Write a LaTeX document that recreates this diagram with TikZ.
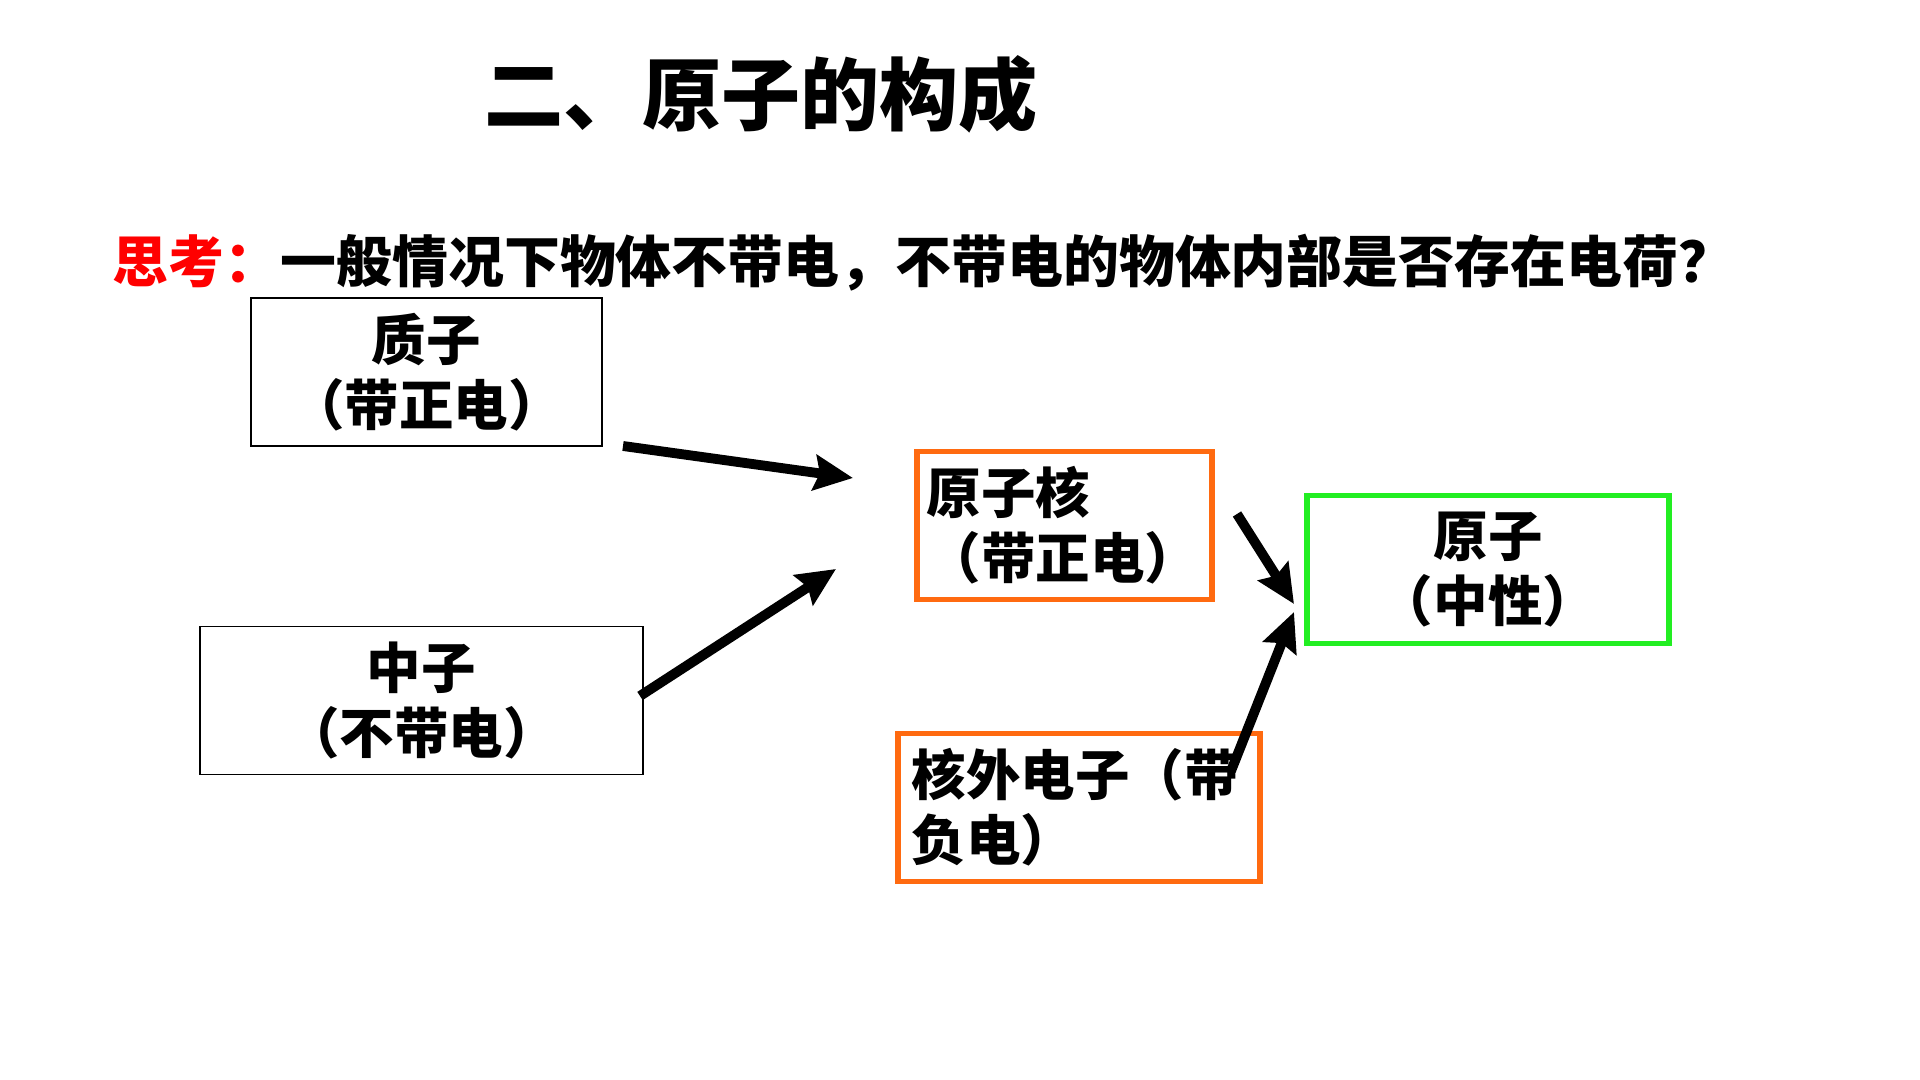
\documentclass[tikz,border=0pt]{standalone}
\usepackage{fontspec}
\setmainfont{Noto Sans CJK SC}
\usetikzlibrary{arrows.meta}
\definecolor{thinkred}{HTML}{FF0000}
\definecolor{coreorange}{HTML}{FF6A10}
\definecolor{atomgreen}{HTML}{22EE22}
\tikzset{
  boxtext/.style  = {font=\fontsize{15.5}{18.5}\selectfont\bfseries},
  partbox/.style  = {boxtext, draw=black, line width=0.4pt, minimum height=1.48cm, align=center},
  corebox/.style  = {boxtext, draw=coreorange, line width=1.5pt, minimum height=1.48cm, align=left},
  atombox/.style  = {boxtext, draw=atomgreen, line width=1.5pt, minimum height=1.48cm, align=center},
  buildarr/.style = {-{Stealth[length=11pt,width=10pt,inset=1.5pt]}, line width=2.8pt}
}

\begin{document}
\begin{tikzpicture}[x=0.01cm,y=-0.01cm]
  \useasboundingbox (0,0) rectangle (1920,1080);
  \node[font=\fontsize{22.5}{26}\selectfont\bfseries] (title) at (761,94) {二、原子的构成};
  \node[anchor=west,inner sep=0pt,font=\fontsize{15.9}{19}\selectfont\bfseries] (think)
       at (112,263) {\textcolor{thinkred}{思考：}一般情况下物体不带电，不带电的物体内部是否存在电荷？};
  % the parts, the nucleus and the atom
  \node[partbox,minimum width=3.51cm] (proton)  at (426.5,372)   {质子\\（带正电）};
  \node[partbox,minimum width=4.43cm] (neutron) at (421.5,700.5) {中子\\（不带电）};
  \node[corebox,text width=2.75cm,inner xsep=0.1cm] (nucleus) at (1064.5,525.5) {原子核\\（带正电）};
  \node[corebox,text width=3.34cm,inner xsep=0.14cm] (electron) at (1079,807.5) {核外电子（带\\负电）};
  \node[atombox,minimum width=3.62cm] (atom) at (1488,569.5) {原子\\（中性）};
  % arrow ends stand off the boxes
  \coordinate (protonout)   at (623,446);
  \coordinate (coretipa)    at (853,478);
  \coordinate (neutronout)  at (640,696);
  \coordinate (coretipb)    at (836,569);
  \coordinate (nucleusout)  at (1237,514);
  \coordinate (atomtipa)    at (1294,604);
  \coordinate (electronout) at (1231,771);
  \coordinate (atomtipb)    at (1294,612);
  \draw[buildarr] (protonout) -- (coretipa);
  \draw[buildarr] (neutronout) -- (coretipb);
  \draw[buildarr] (nucleusout) -- (atomtipa);
  \draw[buildarr] (electronout) -- (atomtipb);
\end{tikzpicture}
\end{document}
